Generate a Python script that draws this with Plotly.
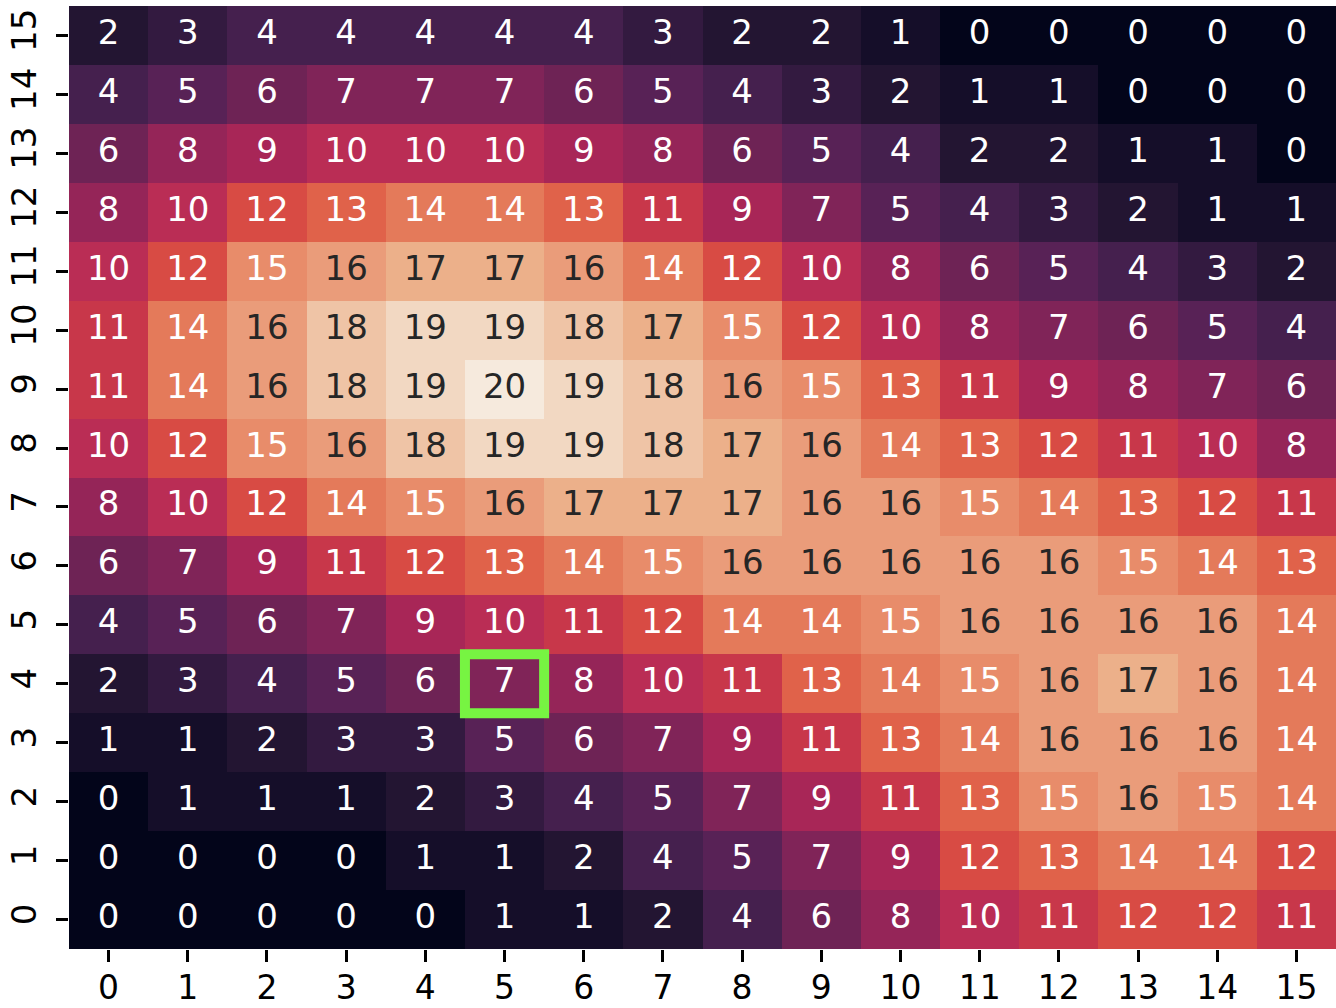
import plotly.graph_objects as go

# Grid values, written top row (y=15) first down to the bottom row (y=0)
rows_top_to_bottom = [
    [2, 3, 4, 4, 4, 4, 4, 3, 2, 2, 1, 0, 0, 0, 0, 0],
    [4, 5, 6, 7, 7, 7, 6, 5, 4, 3, 2, 1, 1, 0, 0, 0],
    [6, 8, 9, 10, 10, 10, 9, 8, 6, 5, 4, 2, 2, 1, 1, 0],
    [8, 10, 12, 13, 14, 14, 13, 11, 9, 7, 5, 4, 3, 2, 1, 1],
    [10, 12, 15, 16, 17, 17, 16, 14, 12, 10, 8, 6, 5, 4, 3, 2],
    [11, 14, 16, 18, 19, 19, 18, 17, 15, 12, 10, 8, 7, 6, 5, 4],
    [11, 14, 16, 18, 19, 20, 19, 18, 16, 15, 13, 11, 9, 8, 7, 6],
    [10, 12, 15, 16, 18, 19, 19, 18, 17, 16, 14, 13, 12, 11, 10, 8],
    [8, 10, 12, 14, 15, 16, 17, 17, 17, 16, 16, 15, 14, 13, 12, 11],
    [6, 7, 9, 11, 12, 13, 14, 15, 16, 16, 16, 16, 16, 15, 14, 13],
    [4, 5, 6, 7, 9, 10, 11, 12, 14, 14, 15, 16, 16, 16, 16, 14],
    [2, 3, 4, 5, 6, 7, 8, 10, 11, 13, 14, 15, 16, 17, 16, 14],
    [1, 1, 2, 3, 3, 5, 6, 7, 9, 11, 13, 14, 16, 16, 16, 14],
    [0, 1, 1, 1, 2, 3, 4, 5, 7, 9, 11, 13, 15, 16, 15, 14],
    [0, 0, 0, 0, 1, 1, 2, 4, 5, 7, 9, 12, 13, 14, 14, 12],
    [0, 0, 0, 0, 0, 1, 1, 2, 4, 6, 8, 10, 11, 12, 12, 11],
]
x_labels = list(range(16))
y_labels = list(range(16))
highlight_cell = (5, 4)  # (column, row)

z = rows_top_to_bottom[::-1]  # index 0 = bottom row
vmin, vmax = 0, 20

# Rocket-style colour ramp, one stop per integer step of the 0..20 range
ramp_colors = [
    "#03051a", "#150e29", "#231532", "#331a40", "#45204e", "#582256",
    "#6e2355", "#802458", "#952558", "#a82657", "#ba2d55", "#c8374a",
    "#d84b44", "#e0624a", "#e47a5a", "#e88c6a", "#ea9c7a", "#ecb08a",
    "#efc4a6", "#f2d8c2", "#f6eadd",
]
ramp_stops = [(i / (len(ramp_colors) - 1), c) for i, c in enumerate(ramp_colors)]


def hex_rgb(h):
    h = h.lstrip("#")
    return tuple(int(h[i:i + 2], 16) for i in (0, 2, 4))


def cmap(t):
    t = min(max(t, 0.0), 1.0)
    for (p0, c0), (p1, c1) in zip(ramp_stops[:-1], ramp_stops[1:]):
        if t <= p1:
            f = (t - p0) / (p1 - p0)
            a, b = hex_rgb(c0), hex_rgb(c1)
            return tuple(a[i] + f * (b[i] - a[i]) for i in range(3))
    return hex_rgb(ramp_stops[-1][1])


def luminance(rgb):
    out = []
    for c in rgb:
        c = c / 255
        out.append(c / 12.92 if c <= 0.03928 else ((c + 0.055) / 1.055) ** 2.4)
    return 0.2126 * out[0] + 0.7152 * out[1] + 0.0722 * out[2]


fig = go.Figure()
fig.add_trace(go.Heatmap(
    z=z, x=x_labels, y=y_labels,
    zmin=vmin, zmax=vmax,
    colorscale=[[p, c] for p, c in ramp_stops],
    showscale=False, hoverinfo="skip",
))

# Cell annotations, white on dark cells and near-black on light ones
tx, ty, tt, tc = [], [], [], []
for yi, row in enumerate(z):
    for xi, v in enumerate(row):
        tx.append(x_labels[xi])
        ty.append(y_labels[yi])
        tt.append(str(v))
        lum = luminance(cmap((v - vmin) / (vmax - vmin)))
        tc.append("#262626" if lum > 0.408 else "#ffffff")

fig.add_trace(go.Scatter(
    x=tx, y=ty, text=tt, mode="text",
    textfont=dict(family="DejaVu Sans", size=34, color=tc),
    textposition="middle center", hoverinfo="skip", showlegend=False,
))

hx, hy = highlight_cell
fig.add_shape(
    type="rect", xref="x", yref="y",
    x0=hx - 0.5, x1=hx + 0.5, y0=hy - 0.5, y1=hy + 0.5,
    line=dict(color="#77f442", width=10),
)

fig.update_xaxes(
    range=[-0.5, 15.5], tickvals=x_labels, ticktext=[str(v) for v in x_labels],
    ticks="outside", ticklen=12, tickwidth=2.5, tickcolor="#000000",
    tickfont=dict(family="DejaVu Sans", size=33, color="#000000"),
    ticklabelstandoff=-3, automargin=False,
    showgrid=False, zeroline=False, showline=False,
)
fig.update_yaxes(
    range=[-0.5, 15.5], tickvals=y_labels, ticktext=[str(v) for v in y_labels],
    ticks="outside", ticklen=12, tickwidth=2.5, tickcolor="#000000",
    tickfont=dict(family="DejaVu Sans", size=34, color="#000000"),
    tickangle=-90, ticklabelstandoff=6, automargin=False,
    showgrid=False, zeroline=False, showline=False,
)
fig.update_layout(
    width=1336, height=1008,
    margin=dict(l=69, r=0, t=5.5, b=58.5),
    paper_bgcolor="#ffffff", plot_bgcolor="#ffffff",
    showlegend=False,
)

fig.write_html("out.html")
